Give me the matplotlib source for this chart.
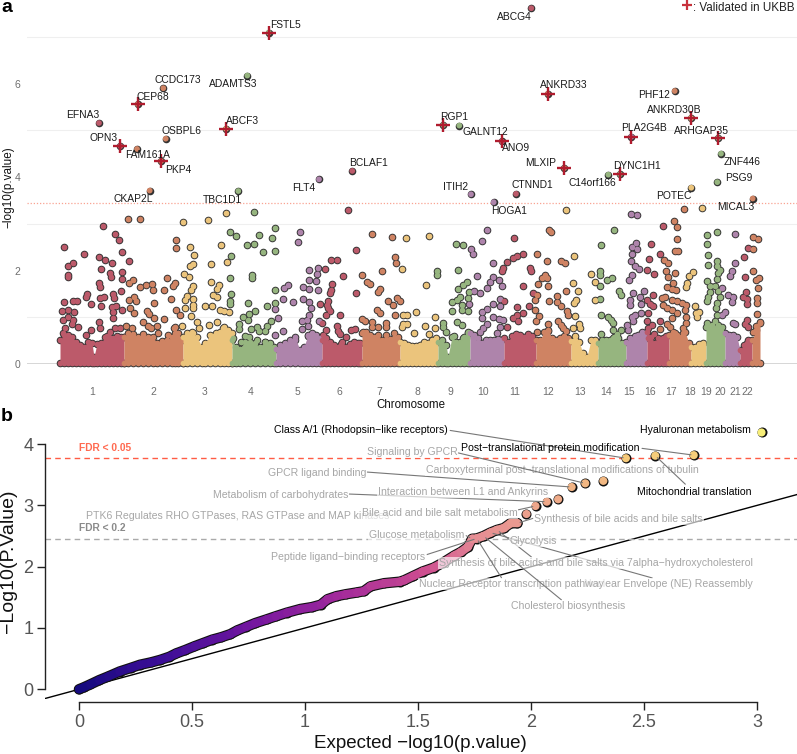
import matplotlib
matplotlib.use('Agg')
import matplotlib.pyplot as plt
from matplotlib.collections import LineCollection
from matplotlib.colors import LinearSegmentedColormap
import numpy as np

plt.rcParams['font.family'] = ['Liberation Sans', 'DejaVu Sans']

# panel a: genome position (plot units) and -log10(p) per chromosome
pos_1 = [64,68.3,72.7,67.7,68.3,84.3,103.3,115.3,118.7,121.7,99,105,111.7,128.7,100.7,110,110.7,121.7,122,98.7,99.7,121,87.3,86,64,72.7,76.7,90.7,100,104,112.7,114,100.7,111.7,115.7,112.7,122,112.7,61.7,68,74,63.3,68.3,72.7,71.7,77.7,65,99,100,86,90.7,62.7,68.3,110,115,120,106.7]
val_1 = [2.50,2.10,2.16,1.86,1.91,2.36,2.96,2.79,2.66,2.39,2.29,2.23,2.16,2.21,2.03,1.94,1.87,1.96,1.81,1.73,1.64,1.56,1.49,1.44,1.33,1.34,1.34,1.28,1.41,1.43,1.49,1.41,1.23,1.21,1.24,1.12,1.15,.99,1.14,1.16,1.11,.94,1.0,.94,.86,.79,.76,.89,.76,.63,.73,.66,.62,.69,.76,.76,.59]
pos_2 = [128.3,140.3,175.7,175.7,167.3,133.3,129.3,140.3,145.7,152,153.3,164.3,175,172.7,171.3,129,134,136,130,134,154.3,147.3,149,154.3,164.3,175.7,180.3,143.3,148.3,156.7,150.7,126,131.7,158,167.7,174,175,161.7]
val_2 = [3.11,3.11,2.66,2.48,1.84,1.79,1.73,1.64,1.70,1.72,1.59,1.59,1.73,1.67,1.40,1.37,1.44,1.35,1.19,1.09,1.30,1.14,1.06,.98,.96,1.16,1.04,.89,.82,.82,.76,.82,.76,.66,.62,.76,.66,.5]
pos_3 = [183.3,207.7,226,190.3,221.3,193.7,211,226.7,190,193.3,184.3,189,211,192.7,190.7,219.3,217.3,186.7,185,192.7,213.3,217.3,192.7,185,192.7,205,211.7,220,224,229.3,190.7,197.3,199,182,208.7,217.3,215.7,222.7,211.7,193.3,186.7]
val_3 = [3.03,3.08,3.24,2.51,2.54,2.33,2.14,2.19,2.09,2.14,1.93,1.86,1.76,1.67,1.59,1.69,1.60,1.46,1.37,1.39,1.48,1.44,1.26,1.19,1.19,1.24,1.24,1.16,1.14,1.12,1.03,.89,.78,.82,.84,.89,.67,.76,.59,.66,.62]
pos_4 = [254.3,230,236,259.3,275,272,246.7,254,263.3,274.7,230.7,230.3,251.7,251.7,275,231,230.3,230.3,247.7,275,267,254.7,249.3,243.3,248.3,270.7,239,239.3,250.7,257.3,266.7,259.3,265.3,233.3,245,249.3,240.7,256.7,265]
val_4 = [3.26,2.83,2.73,2.76,2.90,2.69,2.54,2.56,2.39,2.41,2.31,1.84,1.91,1.84,1.59,1.49,1.35,1.28,1.31,1.30,1.23,1.14,1.08,1.0,.94,.93,.86,.74,.74,.80,.82,.71,.70,.55,.59,.57,.46,.51,.48]
pos_5 = [300,298.3,318.3,309,316.7,309.3,316,288.3,284.3,303.3,309.3,318.3,283.3,292.7,302.7,309.3,311.3,308.7,307.3,302.3,308.3,302.3,278.3,275.3,318.7,283.3,275.3,311.7,295,308.3]
val_5 = [2.82,2.62,2.05,2.01,1.93,1.80,1.78,1.68,1.63,1.65,1.60,1.59,1.39,1.33,1.38,1.33,1.20,1.05,.94,.92,.82,.74,.98,1.17,.93,.70,.61,.64,.51,.59]
pos_6 = [347.7,355.7,331.3,337,325,343.3,332.3,331,330,356.3,320,328.3,327,328.3,330,325.7,339.7,321.7,325.7,336.7,338.3,340,345.7,350.7,355,322.7,341]
val_6 = [3.30,2.44,2.23,2.23,2.03,1.89,1.71,1.59,1.51,1.52,1.29,1.34,1.27,1.19,1.14,1.04,1.05,.87,.73,.81,.71,.64,.57,.73,.75,.62,.42]
pos_7 = [371.7,391.7,394.7,395.7,381.7,361.7,366.7,370,380,378.3,388.3,397.3,393.3,376.7,380,361.7,365,371.7,371.7,378.3,386,385.7,395,363.3,367,400]
val_7 = [2.79,2.72,2.28,2.16,1.99,1.91,1.75,1.71,1.60,1.54,1.35,1.41,1.26,1.16,1.09,.96,.91,.89,.80,.79,.87,.79,1.05,.69,.62,1.34]
pos_8 = [406,429.3,401.7,425.7,415.7,406.7,403.3,435,403.3,402,414.3,425.3,435,429,406.7]
val_8 = [2.70,2.73,2.03,1.69,1.12,1.05,1.04,1.0,.86,.80,.67,.81,.76,.64,.86]
pos_9 = [455.7,463.3,458.3,436.7,436.7,466.7,463.3,458.3,469,460,457.3,451.7,467.7,461.7,462.3,451.7,468.3,456.7,462.3,443.3,445.7,443.3,454.3,463.3,468.3]
val_9 = [2.57,2.54,2.02,1.98,1.91,1.76,1.69,1.60,1.53,1.44,1.37,1.33,1.41,1.26,1.16,1.14,1.14,.89,.84,.87,.69,.80,.59,.56,.67]
pos_10 = [487.3,481.7,470.7,472.7,493.3,476.7,492.7,490,487.3,499,501.7,474,480,469,500,493.3,500,487.3,481.7,481.7,493.3,499.3,503.3,487.3,500,483.3,480,496.7,474,478]
val_10 = [2.86,2.64,2.46,2.35,2.17,1.89,1.86,1.76,1.62,1.79,1.66,1.57,1.51,1.29,1.39,1.28,1.24,1.18,1.12,.98,1.01,.96,.94,.85,.80,.76,.69,.67,.62,.55]
pos_11 = [514,523.3,516.7,513.3,506.7,502.7,502,530,531,523,533.3,504.3,516.7,529.3,523.3,517.3,513.3,518.3,506.7]
val_11 = [2.69,2.36,2.30,2.26,2.19,2.05,1.98,2.05,2.0,1.66,1.51,1.34,1.21,1.23,1.09,1.05,.98,.91,.80]
pos_12 = [549,551,536.7,547.3,561,565,545,541.7,546.7,538.3,548.3,565.7,557.3,537.3,535,549,557.3,561,566.7,568.3,535,539,536,558.3,548.3,561,563.3,565.7,537.3,548.3]
val_12 = [2.87,2.82,2.36,2.20,2.21,2.16,1.91,1.84,1.84,1.71,1.67,1.57,1.46,1.48,1.37,1.34,1.32,1.25,1.14,1.05,1.16,1.03,.93,.93,.86,.84,.76,.71,.69,.71]
pos_13 = [566.3,574.3,590.7,595,573.3,577.7,575.7,574,595,575,579.3,573.3,580,575]
val_13 = [3.29,2.31,1.93,1.76,1.73,1.56,1.36,1.30,1.36,1.03,.86,.76,.76,.60]
pos_14 = [614,601.3,600.3,600.3,606.7,611.7,600.3,600,619.3,620.7,601.3,608.3,610.7,613.3,613.3,620.7,601,616.7,613]
val_14 = [2.86,2.54,1.98,1.91,1.80,1.83,1.66,1.40,1.57,1.48,1.04,1.01,.94,.87,.73,.73,.64,.64,.55]
pos_15 = [630.7,636.7,636,631.7,637.3,631.7,631,635,639,632.3,629.3,644.3,633.3,640,630,630,640.7,640.7,635,631.7,627.3,633.3,628.3,641.7,635]
val_15 = [3.21,3.18,2.59,2.51,2.46,2.36,2.21,2.09,2.04,1.91,1.80,1.56,1.51,1.44,1.37,1.26,1.29,1.09,1.05,1.0,.84,.91,.73,.69,.59]
pos_16 = [662.7,651,660,649.3,646.7,654,647.3,653.3,650,653.3,648.3,646.7,652.3,660,648,654,658.3,648]
val_16 = [2.95,2.57,2.36,2.25,2.01,1.93,1.37,1.48,1.29,1.23,1.09,.91,.84,.91,.76,.64,.55,.55]
pos_17 = [684.3,674.3,677,677.3,675,678.3,664.3,668.3,665.7,675,668.3,672.7,666.7,671.7,676,665,661.7,671.7,676.7,681.7,685.7,663.3,666.7,671.7,685,676.7,686,671.7,686,683.3,670,666.7,660,683.3,675]
val_17 = [3.31,3.06,2.92,2.68,2.41,2.41,2.22,2.16,1.99,1.94,1.87,1.74,1.64,1.60,1.59,1.44,1.41,1.37,1.34,1.30,1.26,1.26,1.19,1.16,1.16,1.09,1.01,.98,.87,.76,.80,.86,.74,.66,.66]
pos_18 = [701.7,692.7,689.3,686.7,686,694.7,695.7,699,696.7]
val_18 = [3.33,1.96,1.89,1.73,1.64,1.23,1.09,1.12,1.01]
pos_19 = [707.3,717.3,707,708,708.3,716.7,717.3,720,718.3,717.3,706.7,710,715,710,708.3,707.3,718.3,720,717.3,715.7,716.7,715,706.7,711.7]
val_19 = [2.77,2.83,2.56,2.34,2.11,2.21,2.09,2.01,1.94,1.81,1.78,1.67,1.67,1.55,1.44,1.34,1.57,1.44,1.30,1.19,1.05,.93,.87,.84]
pos_20 = [734.7,735,732.3,730,721.7,728.3,732.7,732.3,725,721.7,733.3,735]
val_20 = [2.78,2.17,1.99,1.89,1.62,1.48,1.43,1.33,1.12,1.04,.87,.86]
pos_21 = [744.3,747.7,745,745.7,743.3,747.3,747.3,746.7,745,748.3,746.7]
val_21 = [2.28,2.48,1.86,1.53,1.44,1.39,1.29,.94,.86,.80,.44]
pos_22 = [752.7,757.7,753.3,753.3,759.3,756,757.7,757.3,757.3,757.3,760,756,753.3]
val_22 = [2.71,2.67,2.46,1.99,1.85,1.80,1.62,1.42,1.30,1.06,.89,.81,.69]

# top edge of the dense mass of points near zero, per chromosome
blob_pos_1 = [60,64,68,72,76,80,84,88,92,94,97,101,105,109,113,117,121,124]
blob_top_1 = [.51,.62,.57,.58,.48,.41,.37,.48,.44,.16,.43,.44,.58,.57,.55,.6,.58,.57]
blob_pos_2 = [124,128,133,138,143,148,153,157,162,167,172,175,178,183]
blob_top_2 = [.58,.66,.64,.58,.64,.57,.58,.44,.48,.51,.57,.8,.66,.51]
blob_pos_3 = [183,187,192,197,202,205,210,215,220,224,228,232]
blob_top_3 = [.58,.66,.69,.57,.37,.44,.62,.58,.69,.8,.73,.66]
blob_pos_4 = [232,236,240,245,250,255,260,265,270,274]
blob_top_4 = [.51,.37,.33,.48,.48,.44,.37,.48,.44,.37]
blob_pos_5 = [276,280,285,290,295,300,304,308,312,316,320]
blob_top_5 = [.33,.41,.44,.51,.57,.3,.37,.62,.66,.62,.55]
blob_pos_6 = [322,326,330,334,338,342,346,350,354,358,360]
blob_top_6 = [.51,.55,.48,.41,.37,.48,.37,.43,.46,.44,.44]
blob_pos_7 = [362,366,370,374,378,382,386,390,394,398]
blob_top_7 = [.66,.69,.62,.58,.62,.51,.62,.53,.66,.58]
blob_pos_8 = [400,404,408,412,416,420,424,428,432,436]
blob_top_8 = [.48,.44,.41,.39,.39,.41,.48,.44,.51,.55]
blob_pos_9 = [438,442,446,448,452,456,460,464,468]
blob_top_9 = [.48,.51,.41,.16,.58,.48,.48,.58,.69]
blob_pos_10 = [470,474,478,482,486,490,494,498,501]
blob_top_10 = [.66,.55,.48,.44,.51,.51,.51,.53,.51]
blob_pos_11 = [504,508,512,516,520,524,528,532]
blob_top_11 = [.55,.48,.6,.64,.62,.58,.64,.6]
blob_pos_12 = [536,540,544,548,552,556,560,564,568]
blob_top_12 = [.51,.51,.69,.73,.55,.51,.55,.6,.55]
blob_pos_13 = [571,575,579,583,587,591,595]
blob_top_13 = [.5,.51,.48,.23,.16,.51,.51]
blob_pos_14 = [598,602,606,610,614,618,622]
blob_top_14 = [.44,.51,.51,.51,.58,.55,.44]
blob_pos_15 = [626,630,634,638,642,645]
blob_top_15 = [.46,.55,.51,.62,.58,.66]
blob_pos_16 = [647,651,655,659,663,666]
blob_top_16 = [.69,.58,.44,.51,.55,.6]
blob_pos_17 = [669,673,677,681,685,689]
blob_top_17 = [.62,.69,.62,.58,.69,.44]
blob_pos_18 = [691,695,699,703]
blob_top_18 = [.37,.37,.43,.44]
blob_pos_19 = [706,710,714,718,722]
blob_top_19 = [.8,.81,.76,.84,.8]
blob_pos_20 = [725,729,733,737]
blob_top_20 = [.66,.62,.62,.58]
blob_pos_21 = [740,744,748]
blob_top_21 = [.3,.41,.51]
blob_pos_22 = [752,756,760]
blob_top_22 = [.51,.73,.87]

chr_pos = [pos_1,pos_2,pos_3,pos_4,pos_5,pos_6,pos_7,pos_8,pos_9,pos_10,pos_11,pos_12,pos_13,pos_14,pos_15,pos_16,pos_17,pos_18,pos_19,pos_20,pos_21,pos_22]
chr_val = [val_1,val_2,val_3,val_4,val_5,val_6,val_7,val_8,val_9,val_10,val_11,val_12,val_13,val_14,val_15,val_16,val_17,val_18,val_19,val_20,val_21,val_22]
blob_pos = [blob_pos_1,blob_pos_2,blob_pos_3,blob_pos_4,blob_pos_5,blob_pos_6,blob_pos_7,blob_pos_8,blob_pos_9,blob_pos_10,blob_pos_11,blob_pos_12,blob_pos_13,blob_pos_14,blob_pos_15,blob_pos_16,blob_pos_17,blob_pos_18,blob_pos_19,blob_pos_20,blob_pos_21,blob_pos_22]
blob_top = [blob_top_1,blob_top_2,blob_top_3,blob_top_4,blob_top_5,blob_top_6,blob_top_7,blob_top_8,blob_top_9,blob_top_10,blob_top_11,blob_top_12,blob_top_13,blob_top_14,blob_top_15,blob_top_16,blob_top_17,blob_top_18,blob_top_19,blob_top_20,blob_top_21,blob_top_22]

# labelled genes
gene_names = ['FSTL5','CEP68','ABCF3','OPN3','PKP4','RGP1','ANO9','ANKRD33','MLXIP','PLA2G4B','DYNC1H1','ANKRD30B','ARHGAP35',
              'ABCG4','ADAMTS3','CCDC173','EFNA3','OSBPL6','FAM161A','BCLAF1','FLT4','CKAP2L','TBC1D1','PHF12','GALNT12','ZNF446','C14orf166','PSG9','POTEC','MICAL3','ITIH2','CTNND1','HOGA1']
gene_pos = [268.7,137.7,226,120.3,161,443.3,502,547.7,564.3,631.3,620,691,718.3,
            531.3,247.3,163.3,99,165.7,137,352.3,319,149.7,238.3,674.7,459.3,721,608.3,717.3,691.3,752.7,471,516,493.7]
gene_val = [7.09,5.56,5.03,4.66,4.34,5.11,4.76,5.78,4.19,4.86,4.06,5.26,4.83,
            7.61,6.17,5.90,5.155,4.82,4.60,4.13,3.95,3.71,3.70,5.84,5.10,4.50,4.05,3.89,3.77,3.54,3.63,3.64,3.46]
gene_chr = [4,2,3,1,2,9,11,12,12,15,14,18,19,
            11,4,2,1,2,2,6,5,2,4,17,9,19,14,19,18,22,10,11,10]
n_validated = 13

chr_labels = [str(i) for i in range(1,23)]
chr_label_pos = [92,153,205,251,297,339,379,417,450,483,515,548,580,606,629,650,671,690,706,720,735,747]

# panel b: pathway QQ
qq_x = [0,.02,.05,.09,.13,.18,.23,.27,.32,.36,.40,.43,.47,.51,.55,.59,.63,.67,.70,.74,.78,.83,.87,.92,.98,1.03,1.07,1.10,1.14,1.18,1.23,1.26,1.29,1.35,1.42,1.44,1.48,1.52,1.57,1.61,1.66,1.69,1.72,1.74,1.76,1.79,1.82,1.85,1.88,1.91,1.94,1.98,2.02,2.07,2.12,2.18,2.24,2.32,2.42,2.55,2.72,3.02]
qq_y = [0,.03,.08,.15,.21,.29,.35,.40,.44,.48,.53,.585,.64,.70,.755,.81,.85,.90,.96,1.02,1.08,1.14,1.19,1.25,1.31,1.34,1.38,1.47,1.52,1.55,1.58,1.60,1.68,1.73,1.755,1.78,1.85,1.92,1.985,2.065,2.18,2.24,2.32,2.455,2.46,2.50,2.555,2.60,2.63,2.71,2.71,2.86,2.99,3.06,3.10,3.30,3.36,3.40,3.77,3.81,3.82,4.19]
fdr_05 = 3.77
fdr_20 = 2.457
qq_ticks_x = [0,.5,1,1.5,2,2.5,3]
qq_ticklabels_x = ['0','0.5','1','1.5','2','2.5','3']
qq_ticks_y = [0,1,2,3,4]

W, H = 797, 754
fig = plt.figure(figsize=(W/100, H/100), dpi=100)

def rect(left, top, right, bottom):
    return [left/W, 1-bottom/H, (right-left)/W, (bottom-top)/H]

def fxy(px, py):
    return (px/W, 1-py/H)

# ---- panel a ----
ax = fig.add_axes(rect(27, 0, 797, 364))
ax.set_xlim(27, 797)
ax.set_ylim(0, 364/46.75)
for s in ax.spines.values():
    s.set_visible(False)
ax.patch.set_alpha(0)

palette = ['#BC5A6A', '#CF8363', '#EBC47C', '#96B57F', '#AE84AB']
dark = '#333333'
chr_cols = [palette[i % 5] for i in range(22)]

for g in [1, 3, 5, 7]:
    ax.axhline(g, color='#EFEFEF', lw=0.8, zorder=0)
ax.axhline(3.45, color='#F9A392', lw=0.9, ls=(0, (1, 1.5)), zorder=1)
ax.axhline(0, color='#333333', lw=1.0, zorder=1)

ds, cs = 30, 17
for i in range(22):
    ax.scatter(blob_pos[i], blob_top[i], s=ds, c=dark, lw=0, zorder=2, clip_on=False)
    ax.scatter(blob_pos[i], [0.02]*len(blob_pos[i]), s=ds, c=dark, lw=0, zorder=2, clip_on=False)
    ax.scatter(chr_pos[i], chr_val[i], s=ds, c=dark, lw=0, zorder=2, clip_on=False)
for i in range(22):
    # carry each fill over to the first column of the next chromosome, no white slit between them
    fx, ft = list(blob_pos[i]), list(blob_top[i])
    if i < 21:
        fx.append(blob_pos[i+1][0])
        ft.append(min(ft[-1], blob_top[i+1][0]))
    ax.fill_between(fx, 0.02, ft, color=chr_cols[i], lw=0, zorder=3)
    ax.scatter(blob_pos[i], blob_top[i], s=cs, c=chr_cols[i], lw=0, zorder=3, clip_on=False)
    ax.scatter(blob_pos[i], [0.02]*len(blob_pos[i]), s=cs, c=chr_cols[i], lw=0, zorder=3, clip_on=False)
    ax.scatter(chr_pos[i], chr_val[i], s=cs, c=chr_cols[i], lw=0, zorder=3, clip_on=False)

ax.scatter(gene_pos, gene_val, s=ds, c=dark, lw=0, zorder=4, clip_on=False)
ax.scatter(gene_pos, gene_val, s=cs, c=[chr_cols[c-1] for c in gene_chr], lw=0, zorder=4, clip_on=False)
ax.scatter(gene_pos[:n_validated], gene_val[:n_validated], marker='+', s=90, c='#B01C2E', lw=1.7, zorder=5)

ax.set_xticks(chr_label_pos)
ax.set_xticklabels(chr_labels)
ax.set_yticks([0, 2, 4, 6])
ax.tick_params(axis='x', length=0, pad=16.5, labelsize=7.5, labelcolor='#6E6E6E')
ax.tick_params(axis='y', length=0, pad=5, labelsize=7.5, labelcolor='#6E6E6E')

gene_label_xy = [(285.3,25),(153.3,96.7),(242.7,121.3),(104,138),(178,170),(453.8,117),(515.8,148.3),(564,85.3),(540.2,162.7),(643.8,128.3),(636.5,166),(674.7,110.3),(701.8,131),
                 (514.8,16.7),(233.3,84),(178,80),(83,115),(182,130.7),(147.5,154.7),(368.3,163),(303.3,187.7),(133.3,199),(222,199.7),(653.8,94.7),(485,132.3),(742,162.3),(592,183.3),(738.8,178.3),(674,196.3),(736.2,206.7),(455.2,187),(532.3,185.3),(509.3,211)]
for name, (px, py) in zip(gene_names, gene_label_xy):
    fig.text(*fxy(px, py), name, ha='center', va='center', fontsize=7.4, color='#1A1A1A', zorder=6)

fig.text(*fxy(411, 405), 'Chromosome', ha='center', va='center', fontsize=8.3, color='#111111')
fig.text(*fxy(8, 187), '\u2212log10(p.value)', ha='center', va='center', rotation=90, fontsize=8.5, color='#111111')
fig.text(*fxy(693.3, 8), ': Validated in UKBB', ha='left', va='center', fontsize=8.4, color='#222222')
ax.scatter([687.3], [(364-5.3)/46.75], marker='+', s=50, c='#C8323C', lw=1.6, zorder=5, clip_on=False)
fig.text(*fxy(1, 7), 'a', ha='left', va='center', fontsize=14, fontweight='bold', color='black')
fig.text(*fxy(1, 417), 'b', ha='left', va='center', fontsize=14, fontweight='bold', color='black')

# ---- panel b ----
bx = fig.add_axes(rect(45, 420, 797, 699))
bx.set_xlim((45-79)/226, (797-79)/226)
bx.set_ylim((689.3-699)/61.3, (689.3-420)/61.3)
bx.patch.set_alpha(0)
for s in ['top', 'right']:
    bx.spines[s].set_visible(False)
bx.spines['bottom'].set_position(('outward', 2.2))
bx.spines['bottom'].set_bounds(0, 3)
bx.spines['left'].set_bounds(0, 4)
for s in ['bottom', 'left']:
    bx.spines[s].set_linewidth(1.0)
    bx.spines[s].set_color('#222222')
bx.set_xticks(qq_ticks_x)
bx.set_xticklabels(qq_ticklabels_x)
bx.set_yticks(qq_ticks_y)
bx.tick_params(length=5.5, width=1.0, color='#222222', labelsize=13, labelcolor='#555555')
bx.tick_params(axis='x', pad=3)
bx.tick_params(axis='y', pad=3)

bx.axline((0, 0), slope=1, color='black', lw=1.0, zorder=1)
bx.axhline(fdr_05, color='#FF5C45', lw=1.0, ls=(0, (4, 3)), zorder=1)
bx.axhline(fdr_20, color='#AAAAAA', lw=1.0, ls=(0, (4, 3)), zorder=1)
fig.text(*fxy(79, 447.5), 'FDR < 0.05', ha='left', va='center', fontsize=7.4, fontweight='bold', color='#FF6A50')
fig.text(*fxy(79, 528), 'FDR < 0.2', ha='left', va='center', fontsize=7.4, fontweight='bold', color='#8A8A8A')

qq_cmap = LinearSegmentedColormap.from_list('qq', [(0, '#150A7E'), (.12, '#3E0E98'), (.25, '#74169F'), (.36, '#A22A9B'),
                                                   (.45, '#CC4C90'), (.58, '#E58C94'), (.73, '#EFA98A'), (.9, '#F6C97A'), (1, '#F7EE78')])
qq_cols = qq_cmap(np.array(qq_y)/max(qq_y))
n_line = qq_x.index(1.94)+1
bx.plot(qq_x[:n_line], qq_y[:n_line], color='#111111', lw=7.6, solid_capstyle='round', zorder=2)
bx.scatter(qq_x, qq_y, s=52, c='#111111', lw=0, zorder=2, clip_on=False)
segs = [[(qq_x[i], qq_y[i]), (qq_x[i+1], qq_y[i+1])] for i in range(n_line-1)]
bx.add_collection(LineCollection(segs, colors=qq_cols[:n_line-1], linewidths=6.0, capstyle='round', zorder=3))
bx.scatter(qq_x, qq_y, s=34, c=qq_cols, lw=0, zorder=3, clip_on=False)

grey = '#A6A6A6'
box = dict(boxstyle='square,pad=0.1', fc='white', ec='none', alpha=0.65)
# text, target index in qq lists, text centre in pixels, leader start, colour
pathway_labels = [
    ('Nuclear Envelope (NE) Reassembly', 46, (668, 584), (0.45, 0.9), grey),
    ('PTK6 Regulates RHO GTPases, RAS GTPase and MAP kinases', 49, (238, 516), None, grey),
    ('Synthesis of bile acids and bile salts via 7alpha\u2212hydroxycholesterol', 47, (595.5, 563), (0.3, 1.0), grey),
    ('Nuclear Receptor transcription pathway', 44, (511.5, 584), (0.45, 1.0), grey),
    ('Cholesterol biosynthesis', 45, (568.5, 606), (0.45, 1.0), grey),
    ('Peptide ligand\u2212binding receptors', 44, (348.5, 557), (1.0, 0.7), grey),
    ('Glycolysis', 46, (533.5, 541), None, grey),
    ('Glucose metabolism', 43, (417, 535), (1.0, 0.5), grey),
    ('Synthesis of bile acids and bile salts', 50, (618.5, 519), (0.0, 0.6), grey),
    ('Bile acid and bile salt metabolism', 52, (439.5, 513), (1.0, 0.8), grey),
    ('Metabolism of carbohydrates', 53, (280.5, 495), (1.0, 0.6), grey),
    ('Interaction between L1 and Ankyrins', 52, (463.5, 492), None, grey),
    ('GPCR ligand binding', 55, (317, 473), (1.0, 0.6), grey),
    ('Carboxyterminal post\u2212translational modifications of tubulin', 57, (562, 470), None, grey),
    ('Signaling by GPCR', 56, (412, 451.7), (1.0, 0.4), grey),
    ('Class A/1 (Rhodopsin\u2212like receptors)', 58, (360.5, 430), (1.0, 0.5), 'black'),
    ('Post\u2212translational protein modification', 60, (550, 448), (1.0, 0.5), 'black'),
    ('Hyaluronan metabolism', 61, (695.5, 430), None, 'black'),
    ('Mitochondrial translation', 59, (694, 492), (0.45, 1.0), 'black'),
]
for k, (txt, idx, (px, py), rel, col) in enumerate(pathway_labels):
    kw = {}
    if rel is not None:
        kw['arrowprops'] = dict(arrowstyle='-', color='#777777', lw=0.8, shrinkA=0, shrinkB=2, relpos=rel)
    bx.annotate(txt, xy=(qq_x[idx], qq_y[idx]), xycoords='data', xytext=fxy(px, py), textcoords='figure fraction',
                ha='center', va='center', fontsize=7.6, color=col,
                bbox=box if col == grey else None, zorder=6+k*0.01, **kw)

fig.text(*fxy(9, 561), '\u2212Log10(P.Value)', ha='center', va='center', rotation=90, fontsize=14, color='#111111')
fig.text(*fxy(420, 744), 'Expected \u2212log10(p.value)', ha='center', va='center', fontsize=13.5, color='#111111')

fig.savefig('out.png', dpi=100)
